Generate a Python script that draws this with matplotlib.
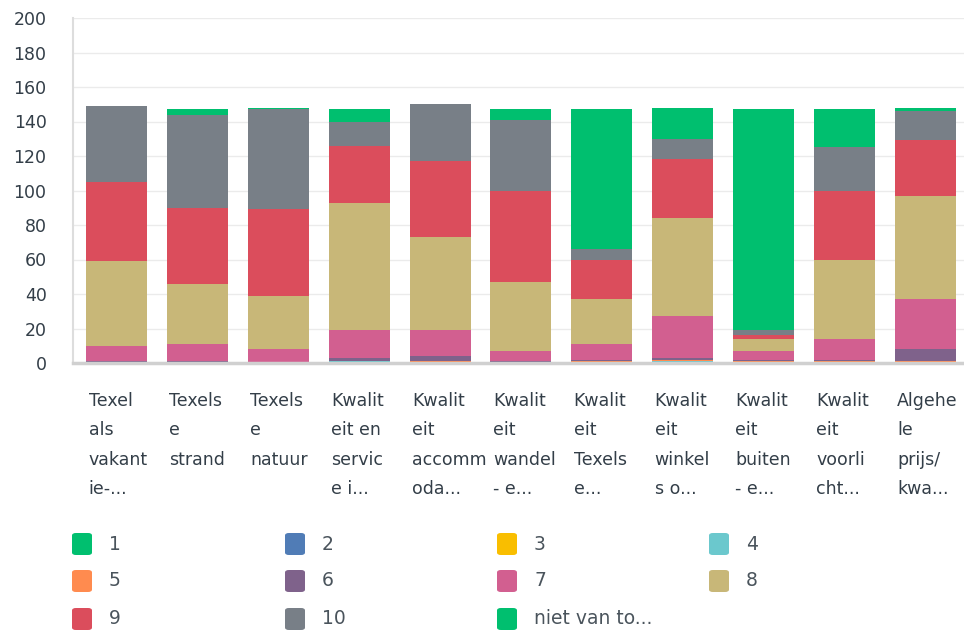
import matplotlib
matplotlib.use("Agg")
import matplotlib.pyplot as plt
from matplotlib.patches import FancyBboxPatch

plt.rcParams['font.family'] = ['DejaVu Sans']

categories = [
    "Texel\nals\nvakant\nie-...",
    "Texels\ne\nstrand",
    "Texels\ne\nnatuur",
    "Kwalit\neit en\nservic\ne i...",
    "Kwalit\neit\naccomm\noda...",
    "Kwalit\neit\nwandel\n- e...",
    "Kwalit\neit\nTexels\ne...",
    "Kwalit\neit\nwinkel\ns o...",
    "Kwalit\neit\nbuiten\n- e...",
    "Kwalit\neit\nvoorli\ncht...",
    "Algehe\nle\nprijs/\nkwa...",
]

series_names = ["1", "2", "3", "4", "5", "6", "7", "8", "9", "10", "niet van to..."]

s1 = [0, 0, 0, 0, 0, 0, 0, 0, 0, 0, 0]
s2 = [0, 0, 0, 0, 0, 0, 0, 0, 0, 0, 0]
s3 = [0, 0, 0, 0, 0, 0, 0, 0, 0, 0, 0]
s4 = [0, 0, 0, 1, 0, 0, 0, 1, 0, 0, 0]
s5 = [0, 0, 0, 0, 1, 0, 1, 1, 1, 1, 1]
s6 = [1, 1, 0, 2, 3, 1, 1, 1, 1, 1, 7]
s7 = [9, 10, 8, 16, 15, 6, 9, 24, 5, 12, 29]
s8 = [49, 35, 31, 74, 54, 40, 26, 57, 7, 46, 60]
s9 = [46, 44, 50, 33, 44, 53, 23, 34, 2, 40, 32]
s10 = [44, 54, 58, 14, 33, 41, 6, 12, 3, 25, 17]
s_niet = [0, 3, 1, 7, 0, 6, 81, 18, 128, 22, 2]

series = [s1, s2, s3, s4, s5, s6, s7, s8, s9, s10, s_niet]
colors = ["#00BF6F", "#507CB6", "#F9BE00", "#6BC8CD", "#FF8B4F", "#7F628B",
          "#D25F90", "#C8B778", "#DB4D5C", "#787F87", "#00BF6F"]

text_color = "#333E48"

fig = plt.figure(figsize=(9.64, 6.31), dpi=100)
ax = fig.add_axes([73 / 964, 1 - 363 / 631, (964 - 73) / 964, (363 - 18) / 631])

x = list(range(len(categories)))
width = 0.754
bottom = [0] * len(categories)
for vals, col, name in zip(series, colors, series_names):
    ax.bar(x, vals, width, bottom=bottom, color=col, label=name, zorder=3)
    bottom = [b + v for b, v in zip(bottom, vals)]

ax.set_ylim(0, 200)
ax.set_xlim(-0.54, 10.48)
ax.set_yticks(range(0, 201, 20))
ax.tick_params(axis='y', length=0, pad=19, labelsize=12.5, labelcolor=text_color)
ax.set_xticks([])
ax.grid(axis='y', color='#EBEBEB', linewidth=1, zorder=0)
for s in ['top', 'right']:
    ax.spines[s].set_visible(False)
ax.spines['left'].set_color('#DDDDDD')
ax.spines['left'].set_linewidth(1.5)
ax.spines['bottom'].set_color('#D0D0D0')
ax.spines['bottom'].set_linewidth(2.5)
ax.spines['bottom'].set_zorder(4)

# category labels, left aligned at the bar edge
trans = ax.get_xaxis_transform()
for i, lab in enumerate(categories):
    ax.text(i - width / 2 + 0.03, -0.083, lab, transform=trans, ha='left', va='top',
            fontsize=12.5, color=text_color, linespacing=1.82)

# legend, row-major with rounded swatches
col_x = [72, 285, 497, 709]
row_y = [544, 581, 619]
for k, (name, col) in enumerate(zip(series_names, colors)):
    r, c = divmod(k, 4)
    px, py = col_x[c], row_y[r]
    sw = FancyBboxPatch((px / 964, (631 - py - 11) / 631), 20 / 964, 22 / 631,
                        boxstyle="round,pad=0,rounding_size=0.004",
                        transform=fig.transFigure, facecolor=col, edgecolor='none')
    fig.patches.append(sw)
    fig.text((px + 37) / 964, (631 - py) / 631, name, ha='left', va='center',
             fontsize=13.5, color='#4A545C')

fig.savefig("out.png", dpi=100)
